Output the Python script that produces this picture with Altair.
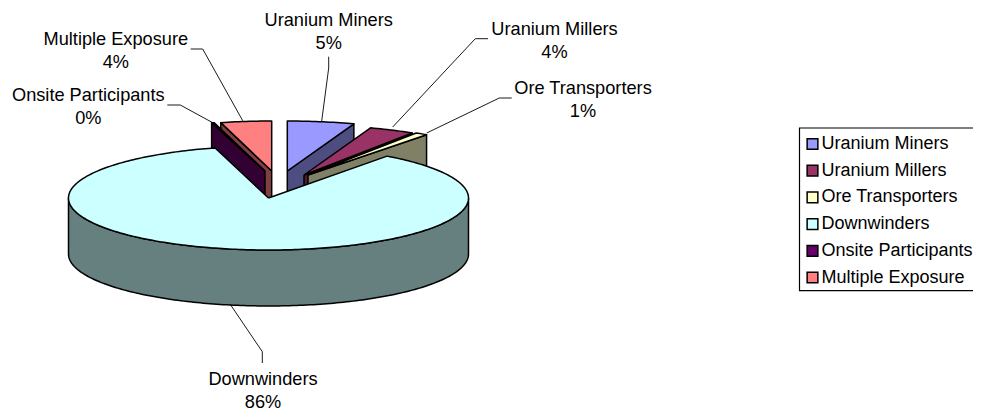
import math
import altair as alt
import pandas as pd

names = ["Uranium Miners", "Uranium Millers", "Ore Transporters", "Downwinders", "Onsite Participants", "Multiple Exposure"]
shares = [5.4, 3.7, 1.0, 85.6, 0.2, 4.1]
faces = ["#9999FF", "#993366", "#FFFFCC", "#CCFFFF", "#660066", "#FF8080"]
walls = ["#4D4D80", "#4D1A33", "#808066", "#668080", "#330033", "#804040"]
apexes = [(287.3, 171), (304, 175), (308, 175), (268.5, 198), (265, 171), (271.7, 171)]
label_pos = [(328.7, 21), (554.5, 30), (583, 89), (263, 380), (88.3, 96), (115.8, 40)]
leaders = [
    [(321.7, 121), (328.7, 68), (328.7, 56.7)],
    [(392.7, 127), (475.3, 38.7), (488, 38.7)],
    [(426.7, 133), (499.3, 98), (511.7, 98)],
    [(230.7, 305), (262.3, 351.7), (262.3, 363)],
    [(213.3, 123), (180.3, 105), (167.3, 105)],
    [(242.7, 120.7), (202.7, 49), (190.7, 49)],
]

RX, DEPTH = 200, 56


def point(apex, t, ry):
    r = math.radians(t)
    return (apex[0] + RX * math.sin(r), apex[1] - ry * math.cos(r))


def arc(apex, t0, t1, ry):
    n = max(2, int(abs(t1 - t0)) + 1)
    return [point(apex, t0 + (t1 - t0) * k / (n - 1), ry) for k in range(n)]


bounds = []
acc = 0.0
for s in shares:
    bounds.append((acc * 3.6, (acc + s) * 3.6))
    acc += s

rows = []


def add(poly_pts, fill):
    pid = add.count
    add.count += 1
    pts = poly_pts + [poly_pts[0]]
    for i, (x, y) in enumerate(pts):
        rows.append({"poly": pid, "i": i, "x": x, "y": y, "fill": fill})


add.count = 0


def down(pts):
    return [(x, y + DEPTH) for x, y in reversed(pts)]


# painter's order: back slices, then their cut walls, then the large slice
for idx, edge in [(0, 1), (1, 1), (2, 1), (5, 0), (4, 0)]:
    t0, t1 = bounds[idx]
    ax = apexes[idx]
    ry = 50
    tip = point(ax, t1 if edge else t0, ry)
    add([ax, tip] + down([ax, tip]), walls[idx])
    add([ax] + arc(ax, t0, t1, ry), faces[idx])

t0, t1 = bounds[3]
ax = apexes[3]
front = arc(ax, 90, 270, 52)
add(front + down(front), walls[3])
add([ax] + arc(ax, t0, t1, 52), faces[3])

polys = pd.DataFrame(rows)

x_scale = alt.Scale(domain=[8, 973], range=[0, 965], nice=False, zero=False)
y_scale = alt.Scale(domain=[8, 411], range=[0, 403], nice=False, zero=False)
X = lambda f="x": alt.X(f"{f}:Q", scale=x_scale, axis=None)
Y = lambda f="y": alt.Y(f"{f}:Q", scale=y_scale, axis=None)

pie = alt.Chart(polys).mark_line(stroke="black", strokeWidth=1.5, strokeJoin="round", clip=False).encode(
    x=X(), y=Y(), detail="poly:N", order="i:Q",
    fill=alt.Fill("fill:N", scale=None, legend=None),
)

lead_rows = [{"k": k, "i": i, "x": p[0], "y": p[1]} for k, l in enumerate(leaders) for i, p in enumerate(l)]
lead = alt.Chart(pd.DataFrame(lead_rows)).mark_line(stroke="black", strokeWidth=0.9).encode(
    x=X(), y=Y(), detail="k:N", order="i:Q"
)

labels = pd.DataFrame({
    "text": [f"{n}\n{round(s)}%" for n, s in zip(names, shares)],
    "x": [p[0] for p in label_pos],
    "y": [p[1] for p in label_pos],
})
text = alt.Chart(labels).mark_text(
    font="Liberation Sans", fontSize=18.2, lineBreak="\n", lineHeight=23,
    align="center", baseline="middle", color="black",
).encode(x=X(), y=Y(), text="text:N")

legend_box = alt.Chart(pd.DataFrame({"x": [799.5], "x2": [1000.0], "y": [128.0], "y2": [290.7]})).mark_rect(
    fill="transparent", stroke="black", strokeWidth=1.2
).encode(x=X(), x2="x2:Q", y=Y(), y2="y2:Q")

legend_df = pd.DataFrame({"name": names, "x": [100.0] * 6, "y": [100.0] * 6})
legend = alt.Chart(legend_df).mark_square(size=0, filled=True).encode(
    x=X(), y=Y(),
    color=alt.Color("name:N", scale=alt.Scale(domain=names, range=faces), sort=None,
        legend=alt.Legend(
            orient="none", legendX=790.5, legendY=122, title=None,
            direction="vertical", columns=1,
            symbolType="square", symbolSize=115, symbolStrokeColor="black", symbolStrokeWidth=1.5,
            symbolOpacity=1,
            labelFont="Liberation Sans", labelFontSize=18, labelColor="black", labelLimit=300,
            labelOffset=0, rowPadding=8.7, padding=5,
            cornerRadius=0,
        )),
)

chart = (
    alt.layer(lead, pie, legend_box, text, legend)
    .properties(width=965, height=403, padding=0, autosize=alt.AutoSizeParams(type="none"))
    .configure(background="white")
    .configure_view(strokeWidth=0, stroke="transparent")
)
chart.save("out.html", embed_options={"renderer": "svg", "actions": False})
